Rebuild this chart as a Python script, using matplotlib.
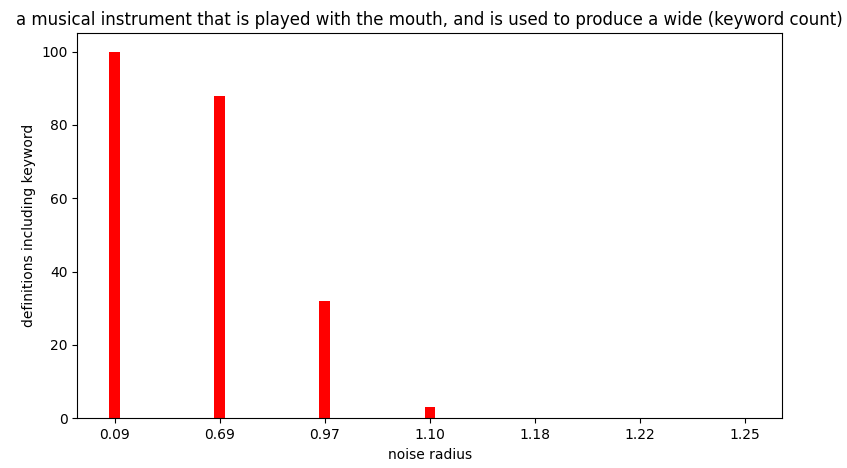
import matplotlib
matplotlib.use("Agg")
from matplotlib import pyplot
import numpy

noise_radius = ["0.09", "0.69", "0.97", "1.10", "1.18", "1.22", "1.25"]
keyword_count = [100, 88, 32, 3, 0, 0, 0]

title = "a musical instrument that is played with the mouth, and is used to produce a wide (keyword count)"

fig, ax = pyplot.subplots(figsize=(8.47, 4.68), dpi=100)
positions = numpy.arange(len(noise_radius))
ax.bar(positions, keyword_count, width=0.1, color="red")
ax.set_xticks(positions)
ax.set_xticklabels(noise_radius)
ax.set_xlabel("noise radius")
ax.set_ylabel("definitions including keyword")
ax.set_title(title)

fig.subplots_adjust(left=0.0913, right=0.9236, top=0.9288, bottom=0.1062)
fig.savefig("out.png", dpi=100)
